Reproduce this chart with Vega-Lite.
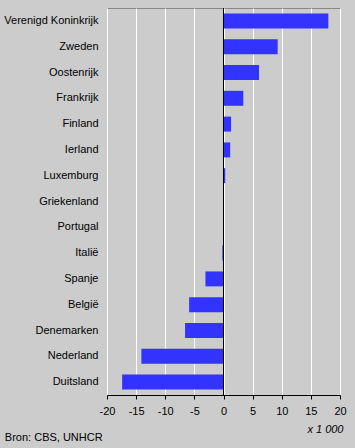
{
  "$schema": "https://vega.github.io/schema/vega-lite/v6.json",
  "autosize": {"type": "none"},
  "width": 233,
  "height": 387,
  "padding": {"left": 107, "top": 8, "right": 15, "bottom": 53},
  "background": "#cccccc",
  "config": {
    "view": {"fill": "#cccccc", "stroke": "#888888", "strokeWidth": 1},
    "font": "Liberation Sans",
    "axis": {"labelFont": "Liberation Sans", "labelFontSize": 11, "labelColor": "#000000", "titleFont": "Liberation Sans"}
  },
  "title": {
    "text": "Bron: CBS, UNHCR",
    "orient": "bottom",
    "anchor": "start",
    "frame": "bounds",
    "font": "Liberation Sans",
    "fontSize": 11,
    "fontWeight": "normal",
    "color": "#000000",
    "offset": -2,
    "dx": 1
  },
  "data": {
    "values": [
      {"land": "Verenigd Koninkrijk", "waarde": 18.0},
      {"land": "Zweden", "waarde": 9.3},
      {"land": "Oostenrijk", "waarde": 6.1},
      {"land": "Frankrijk", "waarde": 3.4},
      {"land": "Finland", "waarde": 1.3},
      {"land": "Ierland", "waarde": 1.15},
      {"land": "Luxemburg", "waarde": 0.3},
      {"land": "Griekenland", "waarde": 0},
      {"land": "Portugal", "waarde": 0},
      {"land": "Italië", "waarde": -0.2},
      {"land": "Spanje", "waarde": -3.1},
      {"land": "België", "waarde": -5.9},
      {"land": "Denemarken", "waarde": -6.6},
      {"land": "Nederland", "waarde": -14.1},
      {"land": "Duitsland", "waarde": -17.4}
    ]
  },
  "layer": [
    {
      "mark": {"type": "bar", "color": "#3333ff"},
      "encoding": {
        "y": {
          "field": "land",
          "type": "nominal",
          "sort": null,
          "scale": {"paddingInner": 0.42, "paddingOuter": 0.21},
          "axis": {"title": null, "ticks": false, "domain": false, "labelPadding": 9, "grid": false}
        },
        "x": {
          "field": "waarde",
          "type": "quantitative",
          "scale": {"domain": [-20, 20], "nice": false},
          "axis": {
            "values": [-20, -15, -10, -5, 0, 5, 10, 15, 20],
            "labelExpr": "'' + datum.value",
            "labelOverlap": false,
            "labelFlush": false,
            "grid": true,
            "gridColor": "#ffffff",
            "gridOpacity": 1,
            "gridWidth": 1,
            "domainColor": "#000000",
            "tickColor": "#000000",
            "tickSize": 4,
            "labelPadding": 6,
            "title": "x 1 000",
            "titleFontStyle": "italic",
            "titleFontWeight": "normal",
            "titleFontSize": 11,
            "titleColor": "#000000",
            "titleAnchor": "end",
            "titleAlign": "right",
            "titlePadding": 7,
            "titleX": 236
          }
        }
      }
    },
    {
      "mark": {"type": "rule", "color": "#000000", "strokeWidth": 1},
      "encoding": {
        "x": {
          "datum": 0,
          "type": "quantitative",
          "axis": {
            "values": [-20, -15, -10, -5, 0, 5, 10, 15, 20],
            "labelExpr": "'' + datum.value",
            "labelOverlap": false,
            "labelFlush": false,
            "grid": true,
            "gridColor": "#ffffff",
            "gridOpacity": 1,
            "gridWidth": 1,
            "domainColor": "#000000",
            "tickColor": "#000000",
            "tickSize": 4,
            "labelPadding": 6,
            "title": "x 1 000",
            "titleFontStyle": "italic",
            "titleFontWeight": "normal",
            "titleFontSize": 11,
            "titleColor": "#000000",
            "titleAnchor": "end",
            "titleAlign": "right",
            "titlePadding": 7,
            "titleX": 236
          }
        }
      }
    }
  ]
}
